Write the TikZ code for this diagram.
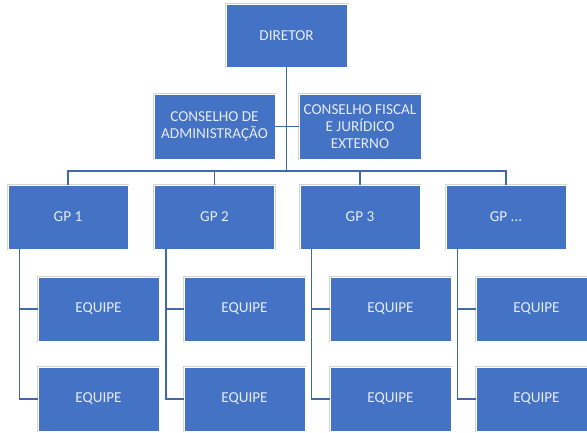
\documentclass[tikz,border=0pt]{standalone}
\usepackage{fontspec}
\setmainfont{Carlito}
\usetikzlibrary{calc}
\definecolor{boxfill}{HTML}{4472C4}
\definecolor{boxtext}{HTML}{E6ECF7}
\definecolor{linkcol}{HTML}{4169AA}
\definecolor{rimcol}{HTML}{D4D4D4}
\tikzset{
  orgbox/.style={rectangle, fill=boxfill, draw=white, line width=0.9pt,
    preaction={draw=rimcol, line width=2.4pt},
    minimum width=120pt, minimum height=64pt, inner sep=0pt,
    text=boxtext, align=center, font=\fontsize{15.2}{16.8}\selectfont},
  link/.style={draw=linkcol, line width=1.6pt}
}
\begin{document}
\begin{tikzpicture}[x=1pt,y=-1pt]
\useasboundingbox (0,0) rectangle (587,432);
% top level
\node[orgbox, minimum width=121pt, minimum height=63pt] (dir) at (286.5,35.5) {DIRETOR};
\node[orgbox, minimum width=121pt, minimum height=65pt] (ca) at (214.5,126.5) {CONSELHO DE\\ADMINISTRAÇÃO};
\node[orgbox, minimum width=122pt, minimum height=65pt] (cf) at (360,126.5) {CONSELHO FISCAL\\E JURÍDICO\\EXTERNO};
% GP row
\node[orgbox] (gp1) at (68,217) {GP 1};
\node[orgbox] (gp2) at (214.5,217) {GP 2};
\node[orgbox] (gp3) at (360,217) {GP 3};
\node[orgbox] (gp4) at (506,217) {GP ...};
% EQUIPE rows
\node[orgbox, minimum width=121pt] (e11) at (98.5,309) {EQUIPE};
\node[orgbox, minimum width=121pt] (e12) at (98.5,399) {EQUIPE};
\node[orgbox, minimum width=121pt] (e21) at (244.5,309) {EQUIPE};
\node[orgbox, minimum width=121pt] (e22) at (244.5,399) {EQUIPE};
\node[orgbox, minimum width=121pt] (e31) at (390.5,309) {EQUIPE};
\node[orgbox, minimum width=121pt] (e32) at (390.5,399) {EQUIPE};
\node[orgbox, minimum width=121pt] (e41) at (536.5,309) {EQUIPE};
\node[orgbox, minimum width=121pt] (e42) at (536.5,399) {EQUIPE};
% connectors
\coordinate (bus) at (0,171);
\draw[link] (dir.south) -- (dir.south |- bus);
\draw[link] (ca.east) -- (cf.west);
\draw[link] (gp1.north) |- (dir.south |- bus);
\draw[link] (gp4.north) |- (dir.south |- bus);
\draw[link] (gp2.north) -- (gp2.north |- bus);
\draw[link] (gp3.north) -- (gp3.north |- bus);
\foreach \g/\a/\b in {gp1/e11/e12, gp2/e21/e22, gp3/e31/e32, gp4/e41/e42}{
  \coordinate (\g-s) at ($(\g.south west)+(12,0)$);
  \draw[link] (\g-s) |- (\a.west);
  \draw[link] (\g-s) |- (\b.west);
}
\end{tikzpicture}
\end{document}
